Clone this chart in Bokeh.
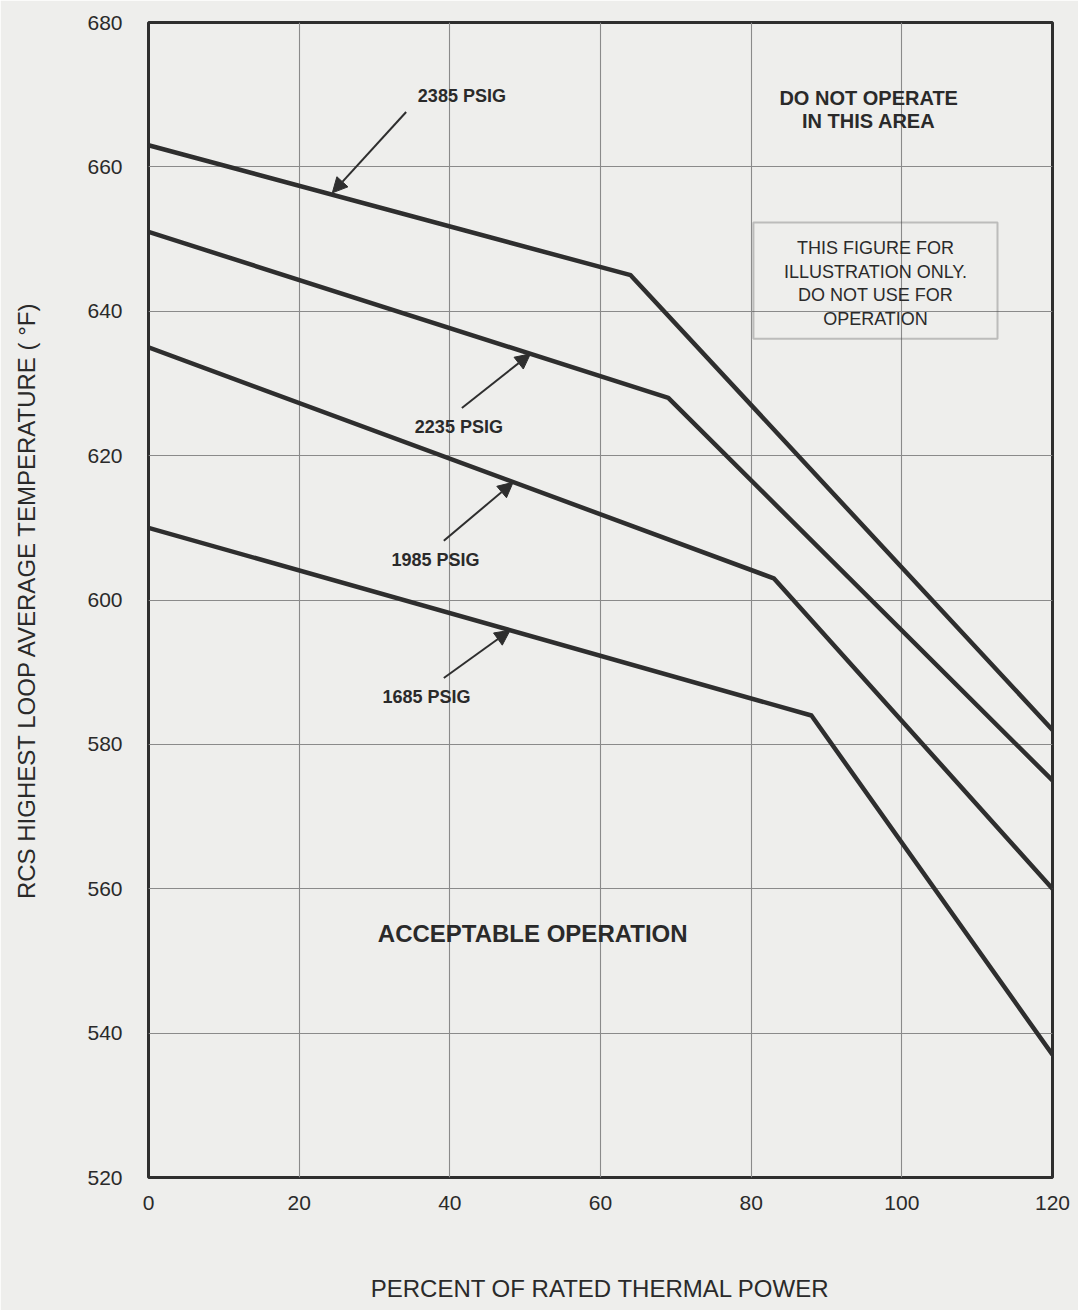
from bokeh.plotting import figure
from bokeh.models import (Label, Arrow, NormalHead, BoxAnnotation, FixedTicker, Range1d)
from bokeh.embed import file_html
from bokeh.resources import INLINE

# Core temperature limit curves (break points) for each pressure
power_pct = {
    "2385 PSIG": [0, 64, 120],
    "2235 PSIG": [0, 69, 120],
    "1985 PSIG": [0, 83, 120],
    "1685 PSIG": [0, 88, 120],
}
tavg_limit = {
    "2385 PSIG": [663, 645, 582],
    "2235 PSIG": [651, 628, 575],
    "1985 PSIG": [635, 603, 560],
    "1685 PSIG": [610, 584, 537],
}
x_ticks = [0, 20, 40, 60, 80, 100, 120]
y_ticks = [520, 540, 560, 580, 600, 620, 640, 660, 680]

# label anchor (x, y) and arrow tail/tip for each curve annotation
label_pos = {
    "2385 PSIG": (41.6, 669.8),
    "2235 PSIG": (41.2, 624.0),
    "1985 PSIG": (38.1, 605.5),
    "1685 PSIG": (36.9, 586.5),
}
arrow_pos = {
    "2385 PSIG": (34.2, 667.6, 24.4, 656.4),
    "2235 PSIG": (41.6, 626.6, 50.7, 634.1),
    "1985 PSIG": (39.2, 608.2, 48.4, 616.3),
    "1685 PSIG": (39.2, 589.2, 48.0, 595.8),
}

PAPER = "#eeeeec"
INK = "#2e2e2e"
TXT = "#2a2a2a"
FONT = "Liberation Sans"

p = figure(width=1078, height=1310, output_backend="svg", toolbar_location=None,
           x_range=Range1d(0, 120), y_range=Range1d(520, 680),
           min_border_left=148, min_border_right=26, min_border_top=22,
           min_border_bottom=133)
p.background_fill_color = PAPER
p.border_fill_color = PAPER
p.outline_line_color = INK
p.outline_line_width = 3

for ax, ticks in ((p.xaxis[0], x_ticks), (p.yaxis[0], y_ticks)):
    ax.ticker = FixedTicker(ticks=ticks)
    ax.axis_line_color = None
    ax.major_tick_line_color = None
    ax.minor_tick_line_color = None
    ax.major_label_text_font = FONT
    ax.major_label_text_font_size = "21px"
    ax.major_label_text_color = TXT
    ax.axis_label_text_font = FONT
    ax.axis_label_text_font_size = "24px"
    ax.axis_label_text_font_style = "normal"
    ax.axis_label_text_color = TXT

p.xaxis.major_label_standoff = 12
p.yaxis.major_label_standoff = 20
p.xaxis.axis_label = "PERCENT OF RATED THERMAL POWER"
p.xaxis.axis_label_standoff = 62
p.yaxis.axis_label = "RCS HIGHEST LOOP AVERAGE TEMPERATURE ( °F)"
p.yaxis.axis_label_standoff = 44

p.xgrid.ticker = FixedTicker(ticks=x_ticks)
p.ygrid.ticker = FixedTicker(ticks=y_ticks)
p.grid.grid_line_color = "#8a8a8a"
p.grid.grid_line_width = 1.1

for name in power_pct:
    p.line(power_pct[name], tavg_limit[name], line_color=INK, line_width=4.5,
           line_join="round")
    lx, ly = label_pos[name]
    p.add_layout(Label(x=lx, y=ly, text=name, text_font=FONT, text_font_size="18px",
                       text_font_style="bold", text_color=TXT, text_align="center",
                       text_baseline="middle"))
    x0, y0, x1, y1 = arrow_pos[name]
    p.add_layout(Arrow(x_start=x0, y_start=y0, x_end=x1, y_end=y1,
                       line_color=INK, line_width=2,
                       end=NormalHead(size=15, fill_color=INK, line_color=INK)))

# operating region notes
for txt, yy in (("DO NOT OPERATE", 669.6), ("IN THIS AREA", 666.3)):
    p.add_layout(Label(x=95.6, y=yy, text=txt, text_font=FONT, text_font_size="20px",
                       text_font_style="bold", text_color=TXT, text_align="center",
                       text_baseline="middle"))

p.add_layout(BoxAnnotation(left=80.3, right=112.7, bottom=636.2, top=652.3,
                           fill_color=None, line_color="#4a4a4a", line_width=2))
for txt, yy in (("THIS FIGURE FOR", 648.8), ("ILLUSTRATION ONLY.", 645.5),
                ("DO NOT USE FOR", 642.2), ("OPERATION", 638.9)):
    p.add_layout(Label(x=96.5, y=yy, text=txt, text_font=FONT, text_font_size="18px",
                       text_color=TXT, text_align="center", text_baseline="middle"))

p.add_layout(Label(x=51.0, y=553.8, text="ACCEPTABLE OPERATION", text_font=FONT,
                   text_font_size="24px", text_font_style="bold", text_color=TXT,
                   text_align="center", text_baseline="middle"))

open("out.html", "w").write(file_html(p, INLINE))
